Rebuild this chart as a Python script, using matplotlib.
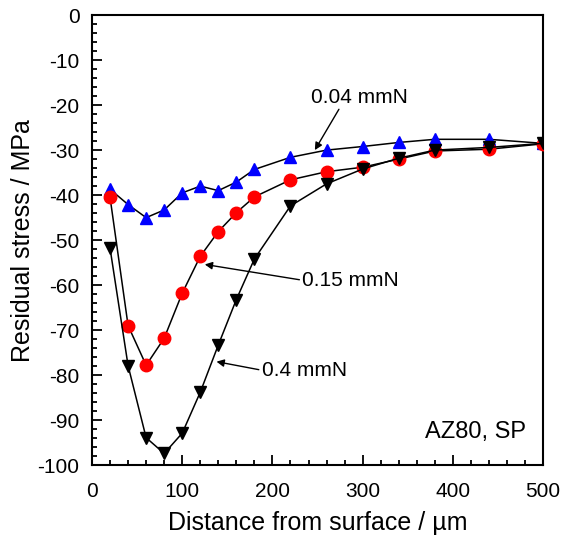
import numpy as np
import matplotlib
matplotlib.use("Agg")
import matplotlib.pyplot as plt
from matplotlib.ticker import MultipleLocator

plt.rcParams['font.family'] = ['Liberation Sans', 'DejaVu Sans']
plt.rcParams['axes.unicode_minus'] = False

# data (depth in um, stress in MPa)
depth = [20, 40, 60, 80, 100, 120, 140, 160, 180, 220, 260, 300, 340, 380, 440, 500]
s_004 = [-38.7, -42.1, -45.0, -43.3, -39.5, -38.0, -39.0, -37.1, -34.3,
         -31.6, -30.0, -29.2, -28.3, -27.6, -27.6, -28.5]
s_015 = [-40.5, -69.0, -77.8, -71.8, -61.8, -53.6, -48.1, -43.9, -40.4,
         -36.6, -34.8, -33.8, -32.0, -30.2, -29.8, -28.6]
s_04 = [-51.8, -77.9, -93.9, -97.4, -92.9, -83.8, -73.3, -63.2, -54.2,
        -42.4, -37.5, -34.2, -31.8, -30.0, -29.4, -28.5]

fig = plt.figure(figsize=(5.61, 5.39), dpi=100)
ax = fig.add_axes([0.164, 0.137, 0.804, 0.835])

ax.plot(depth, s_004, color='black', lw=1.1, marker='^', ms=9,
        mfc='blue', mec='blue', zorder=3)
ax.plot(depth, s_015, color='black', lw=1.1, marker='o', ms=9,
        mfc='red', mec='red', zorder=3)
ax.plot(depth, s_04, color='black', lw=1.1, marker='v', ms=9,
        mfc='black', mec='black', zorder=3)

arr = dict(arrowstyle='-|>', color='black', lw=1, mutation_scale=11,
           shrinkA=0, shrinkB=0)
ax.annotate('0.04 mmN', xy=(247, -30), xytext=(297, -18.2), fontsize=15,
            ha='center', va='center', arrowprops=dict(arr, relpos=(0.3, 0)))
ax.annotate('0.15 mmN', xy=(125, -55.4), xytext=(233, -58.9), fontsize=15,
            ha='left', va='center', arrowprops=dict(arr, relpos=(0, 0.5)))
ax.annotate('0.4 mmN', xy=(138, -77), xytext=(188, -78.9), fontsize=15,
            ha='left', va='center', arrowprops=dict(arr, relpos=(0, 0.5)))
ax.text(481, -92.7, 'AZ80, SP', fontsize=17, ha='right', va='center')

ax.set_xlim(0, 500)
ax.set_ylim(-100, 0)
ax.xaxis.set_major_locator(MultipleLocator(100))
ax.xaxis.set_minor_locator(MultipleLocator(20))
ax.yaxis.set_major_locator(MultipleLocator(10))
ax.yaxis.set_minor_locator(MultipleLocator(2))
ax.tick_params(which='both', direction='in', top=False, right=False,
               labelsize=15, width=1.3)
ax.tick_params(which='major', length=7)
ax.tick_params(axis='x', which='major', pad=12)
ax.tick_params(axis='y', which='major', pad=9)
ax.tick_params(which='minor', length=3.5)
for sp in ax.spines.values():
    sp.set_linewidth(1.5)

ax.set_xlabel('Distance from surface / µm', fontsize=18, labelpad=7)
ax.set_ylabel('Residual stress / MPa', fontsize=18, labelpad=2)

fig.savefig('out.png', dpi=100)
